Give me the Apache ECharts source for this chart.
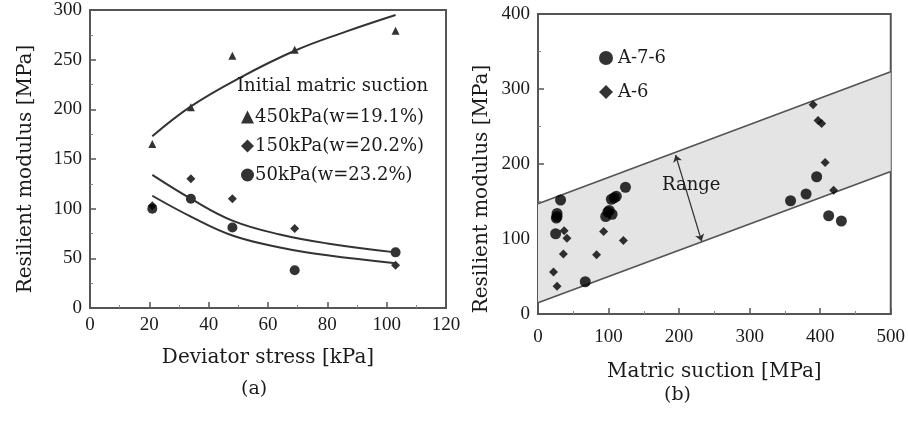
<!DOCTYPE html>
<html>
<head>
<meta charset="utf-8">
<script src="https://cdn.jsdelivr.net/npm/echarts@6/dist/echarts.min.js"></script>
<style>
  html, body { margin: 0; padding: 0; background: #fff; }
  #chart-container { width: 908px; height: 421px; }
</style>
</head>
<body>
<div id="chart-container"></div>
<script>
// panel (a): resilient modulus vs deviator stress
var suction450 = [[21, 165], [34, 202], [48, 254], [69, 260], [103, 279]];
var suction150 = [[21, 103], [34, 130], [48, 110], [69, 80], [103, 43]];
var suction50 = [[21, 100], [34, 110], [48, 81], [69, 38], [103, 56]];
var fit450 = [[21, 173], [34, 203], [50, 231], [69, 259], [86, 278], [103, 295]];
var fit150 = [[21, 134], [34, 110], [48, 88], [64, 74], [80, 65], [103, 56]];
var fit50 = [[21, 113], [34, 92], [48, 73], [64, 61], [80, 53], [103, 45]];

// panel (b): resilient modulus vs matric suction
var a76 = [[32, 152], [27, 134], [26, 128], [27, 130], [25, 107], [67, 43], [96, 130], [99, 136], [101, 138], [105, 133],
  [104, 153], [108, 155], [111, 157], [124, 169], [358, 151], [380, 160], [395, 183], [412, 131], [430, 124]];
var a6 = [[22, 56], [27, 37], [37, 111], [41, 101], [36, 80], [83, 79], [93, 110], [121, 98],
  [390, 279], [397, 258], [402, 254], [407, 202], [419, 165]];
var bandUpper = [[0, 147], [500, 323]];
var bandLower = [[0, 15], [500, 190]];
var rangeArrow = [[195, 212], [232, 97]];

var numFont = 'Liberation Serif';
var txtFont = 'DejaVu Serif';
var ink = '#1a1a1a';
var frame = '#555';

var dom = document.getElementById('chart-container');
var myChart = echarts.init(dom, null, { renderer: 'canvas' });

function axisCommon(min, max, interval, name, gap, rotate, margin, namePad) {
  return {
    type: 'value',
    min: min,
    max: max,
    interval: interval,
    name: name,
    nameLocation: 'middle',
    nameGap: gap,
    nameRotate: rotate,
    nameTextStyle: { fontFamily: txtFont, fontSize: 20, color: ink, padding: namePad || 0 },
    axisLine: { show: true, onZero: false, lineStyle: { color: frame, width: 2 } },
    axisTick: { show: true, inside: true, length: 6, lineStyle: { color: frame, width: 1.5 } },
    minorTick: { show: true, splitNumber: 2, length: 3, lineStyle: { color: '#888', width: 1 } },
    axisLabel: { fontFamily: numFont, fontSize: 19, color: ink, margin: margin },
    splitLine: { show: false }
  };
}

var fitStyle = { color: '#333', width: 2 };

var option = {
  animation: false,
  grid: [
    { left: 90, top: 10, width: 356, height: 298, show: true, borderColor: frame, borderWidth: 2, backgroundColor: 'transparent' },
    { left: 538, top: 14, width: 358, height: 300, show: true, borderColor: frame, borderWidth: 2, backgroundColor: 'transparent' }
  ],
  xAxis: [
    Object.assign(axisCommon(0, 120, 20, 'Deviator stress [kPa]', 40, 0, 8), { gridIndex: 0 }),
    Object.assign(axisCommon(0, 500, 100, 'Matric suction [MPa]', 48, 0, 14), { gridIndex: 1 })
  ],
  yAxis: [
    Object.assign(axisCommon(0, 300, 50, 'Resilient modulus [MPa]', 54, 90, 8, [0, 20, 0, 0]), { gridIndex: 0 }),
    Object.assign(axisCommon(0, 400, 100, 'Resilient modulus [MPa]', 46, 90, 8, [0, 50, 0, 0]), { gridIndex: 1 })
  ],
  legend: [
    {
      data: ['450kPa(w=19.1%)', '150kPa(w=20.2%)', '50kPa(w=23.2%)'],
      orient: 'vertical',
      left: 236,
      top: 103,
      itemWidth: 13,
      itemHeight: 13,
      itemGap: 11,
      textStyle: { fontFamily: txtFont, fontSize: 18, color: ink, padding: [0, 0, 0, -4] }
    },
    {
      data: ['A-7-6', 'A-6'],
      orient: 'vertical',
      left: 594,
      top: 44,
      itemWidth: 14,
      itemHeight: 14,
      itemGap: 16,
      textStyle: { fontFamily: txtFont, fontSize: 18, color: ink }
    }
  ],
  graphic: [
    { type: 'text', z: 100, left: 237, top: 77, style: { text: 'Initial matric suction', font: '18px "DejaVu Serif"', fill: ink } },
    { type: 'text', z: 100, left: 241, top: 380, style: { text: '(a)', font: '19px "DejaVu Serif"', fill: ink } },
    { type: 'text', z: 100, left: 664, top: 386, style: { text: '(b)', font: '19px "DejaVu Serif"', fill: ink } },
    { type: 'text', z: 100, left: 662, top: 176, style: { text: 'Range', font: '18px "DejaVu Serif"', fill: ink } }
  ],
  series: [
    { type: 'line', name: 'fit450', xAxisIndex: 0, yAxisIndex: 0, data: fit450, smooth: 0.4, showSymbol: false, lineStyle: fitStyle },
    { type: 'line', name: 'fit150', xAxisIndex: 0, yAxisIndex: 0, data: fit150, smooth: 0.4, showSymbol: false, lineStyle: fitStyle },
    { type: 'line', name: 'fit50', xAxisIndex: 0, yAxisIndex: 0, data: fit50, smooth: 0.4, showSymbol: false, lineStyle: fitStyle },
    { type: 'scatter', name: '450kPa(w=19.1%)', xAxisIndex: 0, yAxisIndex: 0, data: suction450, symbol: 'triangle', symbolSize: 8, itemStyle: { color: '#000' } },
    { type: 'scatter', name: '150kPa(w=20.2%)', xAxisIndex: 0, yAxisIndex: 0, data: suction150, symbol: 'diamond', symbolSize: 9, itemStyle: { color: '#000' } },
    { type: 'scatter', name: '50kPa(w=23.2%)', xAxisIndex: 0, yAxisIndex: 0, data: suction50, symbol: 'circle', symbolSize: 10, itemStyle: { color: '#000' } },
    {
      type: 'custom',
      name: 'band',
      xAxisIndex: 1,
      yAxisIndex: 1,
      data: [0],
      silent: true,
      z: 1,
      renderItem: function (params, api) {
        var up = bandUpper.map(function (p) { return api.coord(p); });
        var low = bandLower.map(function (p) { return api.coord(p); });
        return {
          type: 'group',
          children: [
            { type: 'polygon', shape: { points: up.concat(low.slice().reverse()) }, style: { fill: '#e4e4e4', stroke: 'none' } },
            { type: 'polyline', shape: { points: up }, style: { stroke: '#555', lineWidth: 1.8, fill: 'none' } },
            { type: 'polyline', shape: { points: low }, style: { stroke: '#555', lineWidth: 1.8, fill: 'none' } }
          ]
        };
      }
    },
    {
      type: 'lines',
      coordinateSystem: 'cartesian2d',
      xAxisIndex: 1,
      yAxisIndex: 1,
      symbol: ['arrow', 'arrow'],
      symbolSize: 7,
      z: 3,
      lineStyle: { color: '#333', width: 1.2, opacity: 1 },
      data: [{ coords: rangeArrow }]
    },
    { type: 'scatter', name: 'A-7-6', xAxisIndex: 1, yAxisIndex: 1, data: a76, symbol: 'circle', symbolSize: 11, z: 4, itemStyle: { color: '#000' } },
    { type: 'scatter', name: 'A-6', xAxisIndex: 1, yAxisIndex: 1, data: a6, symbol: 'diamond', symbolSize: 9, z: 4, itemStyle: { color: '#000' } }
  ]
};

myChart.setOption(option);
window.addEventListener('resize', myChart.resize);
</script>
</body>
</html>
